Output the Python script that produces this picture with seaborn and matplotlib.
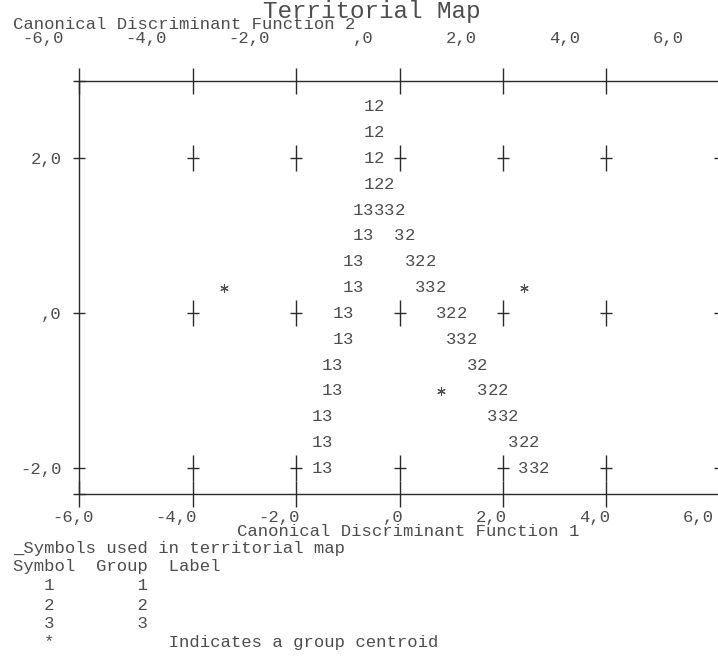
import numpy as np
import pandas as pd
import matplotlib
matplotlib.use('Agg')
import matplotlib.pyplot as plt
import matplotlib.transforms as mtransforms
from matplotlib.ticker import FuncFormatter
import seaborn as sns

sns.set_style("white")
plt.rcParams['font.family'] = ['Liberation Mono', 'DejaVu Sans Mono']

# territory boundaries, one map line per value of function 2
row_y = [2.67, 2.33, 2.0, 1.67, 1.33, 1.0, 0.67, 0.33, 0.0, -0.33, -0.67, -1.0, -1.33, -1.67, -2.0]
left_x = [-0.6, -0.6, -0.6, -0.6, -0.8, -0.8, -1.0, -1.0, -1.2, -1.2, -1.4, -1.4, -1.6, -1.6, -1.6]
left_text = ['12', '12', '12', '122', '13332', '13', '13', '13', '13', '13', '13', '13', '13', '13', '13']
right_y = [1.0, 0.67, 0.33, 0.0, -0.33, -0.67, -1.0, -1.33, -1.67, -2.0]
right_x = [0.0, 0.2, 0.4, 0.8, 1.0, 1.4, 1.6, 1.8, 2.2, 2.4]
right_text = ['32', '322', '332', '322', '332', '32', '322', '332', '322', '332']

# group centroids
centroid_x = [-3.4, 2.4, 0.8]
centroid_y = [0.33, 0.33, -1.0]

x_ticks = [-6, -4, -2, 0, 2, 4, 6]
y_ticks = [-2, 0, 2]
x_range = (-6.2, 6.2)
y_range = (-2.333, 3.0)

legend_lines = ['_Symbols used in territorial map',
                'Symbol  Group  Label',
                '   1        1',
                '   2        2',
                '   3        3',
                '   *           Indicates a group centroid']

text_col = '#4d4d4d'
line_col = '#2a2a2a'
fs = 12.4
col_w = 0.2  # one character column of the map, in function units


def spss_num(v, pos=None):
    s = '%.1f' % v
    s = s.replace('.', ',')
    if s.startswith('0'):
        s = s[1:]
    return s


W, H = 718, 667
fig = plt.figure(figsize=(W / 100, H / 100), dpi=100)
ax = fig.add_axes([79 / W, (H - 494.3) / H, (720 - 79) / W, (494.3 - 81) / H])
ax.set_xlim(*x_range)
ax.set_ylim(*y_range)

# grid crosses inside the map
gx, gy = np.meshgrid(x_ticks[1:-1], y_ticks)
cross = pd.DataFrame({'f1': gx.ravel(), 'f2': gy.ravel()})
sns.scatterplot(data=cross, x='f1', y='f2', marker='|', s=330, color=line_col,
                linewidth=1.0, ax=ax, legend=False)
sns.scatterplot(data=cross, x='f1', y='f2', marker='_', s=75, color=line_col,
                linewidth=1.0, ax=ax, legend=False)

# centroids
cen = pd.DataFrame({'f1': centroid_x, 'f2': centroid_y})
sns.scatterplot(data=cen, x='f1', y='f2', marker=(6, 2, 0), s=30, color=text_col,
                linewidth=0.8, ax=ax, legend=False)

# territory boundary characters
for xs, ys, ts in [(left_x, row_y, left_text), (right_x, right_y, right_text)]:
    for x0, y0, t in zip(xs, ys, ts):
        for i, ch in enumerate(t):
            ax.text(x0 + i * col_w, y0, ch, ha='center', va='center',
                    fontsize=fs, color=text_col)

# frame
for side in ['left', 'top', 'bottom']:
    ax.spines[side].set_color(line_col)
    ax.spines[side].set_linewidth(1.0)
ax.spines['right'].set_visible(False)

ax.xaxis.remove_overlapping_locs = False
ax.yaxis.remove_overlapping_locs = False
ax.set_xticks(x_ticks)
ax.set_xticks([x_range[0]] + x_ticks[1:-1] + [x_range[1]], minor=True)
ax.set_yticks(y_ticks)
ax.set_yticks(list(y_range), minor=True)
ax.xaxis.set_major_formatter(FuncFormatter(spss_num))
ax.yaxis.set_major_formatter(FuncFormatter(spss_num))
ax.xaxis.set_minor_formatter(FuncFormatter(lambda v, p: ''))
ax.yaxis.set_minor_formatter(FuncFormatter(lambda v, p: ''))

ax.tick_params(axis='x', which='major', length=0, top=True, bottom=True,
               labeltop=True, labelbottom=True, pad=11, labelsize=fs, labelcolor=text_col)
ax.tick_params(axis='x', which='minor', direction='inout', length=18.7, width=1.0,
               color=line_col, top=True, bottom=True)
ax.tick_params(axis='y', which='major', direction='inout', length=8.6, width=1.0,
               color=line_col, left=True, right=True, labelleft=True, labelright=False,
               pad=8, labelsize=fs, labelcolor=text_col)
ax.tick_params(axis='y', which='minor', direction='inout', length=8.6, width=1.0,
               color=line_col, left=True, right=False)
ax.set_xlabel('')
ax.set_ylabel('')

# SPSS prints the numbers right-aligned, the top row a few columns to the left
for t in ax.xaxis.get_major_ticks():
    t.label1.set_horizontalalignment('right')
    t.label1.set_transform(t.label1.get_transform() +
                           mtransforms.ScaledTranslation(4 / 100, 0, fig.dpi_scale_trans))
    t.label2.set_horizontalalignment('right')
    t.label2.set_transform(t.label2.get_transform() +
                           mtransforms.ScaledTranslation(-26 / 100, 20 / 100, fig.dpi_scale_trans))

fig.text(372 / W, 1 - 18 / H, 'Territorial Map', ha='center', va='baseline',
         fontsize=17.5, color=text_col)
fig.text(13 / W, 1 - 24.5 / H, 'Canonical Discriminant Function 2', ha='left', va='center',
         fontsize=fs, color=text_col)
fig.text(408 / W, 1 - 531 / H, 'Canonical Discriminant Function 1', ha='center', va='center',
         fontsize=fs, color=text_col)
for i, line in enumerate(legend_lines):
    fig.text(13 / W, 1 - (548 + i * 19) / H, line, ha='left', va='center',
             fontsize=fs, color=text_col)

fig.savefig('out.png', dpi=100)
